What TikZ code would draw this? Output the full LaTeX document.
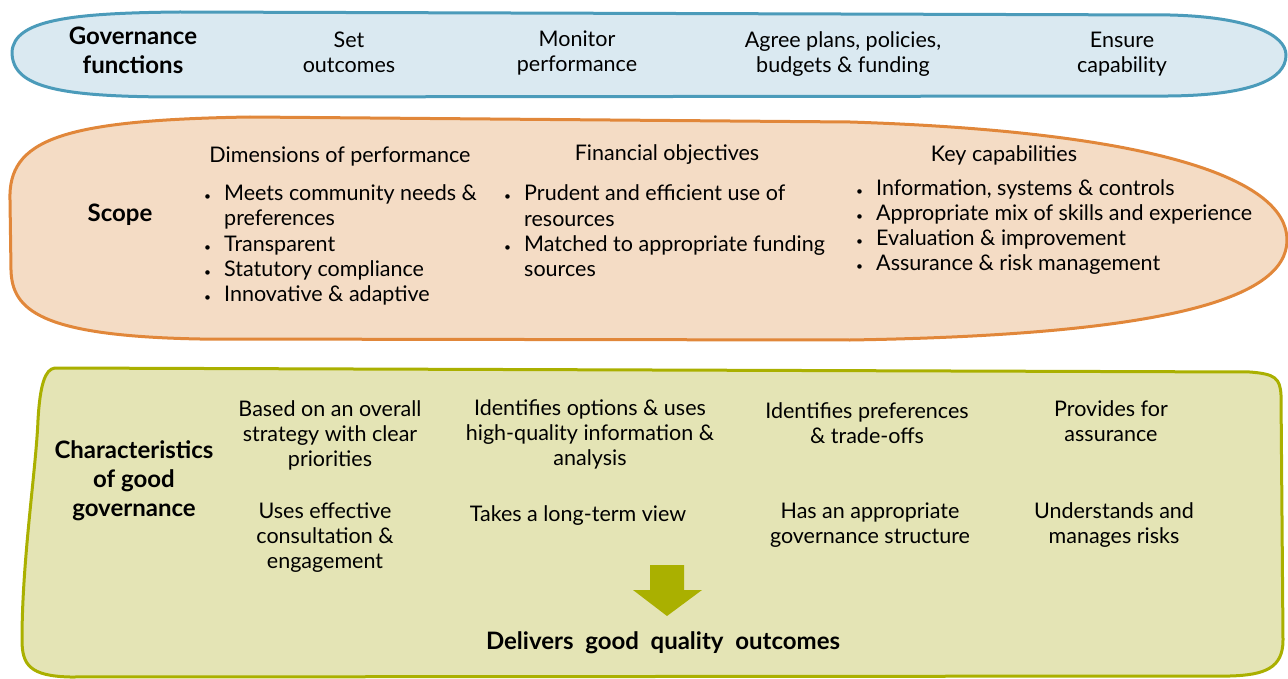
\documentclass[tikz,border=0pt]{standalone}
\usepackage{fontspec}
\setmainfont{Lato}
\usetikzlibrary{positioning}
\definecolor{govfill}{HTML}{DAE9F1}
\definecolor{govline}{HTML}{4B9BBA}
\definecolor{scopefill}{HTML}{F4DCC5}
\definecolor{scopeline}{HTML}{E1873A}
\definecolor{charfill}{HTML}{E4E4B5}
\definecolor{charline}{HTML}{AAB000}
\newcommand{\bul}{\makebox[20pt][l]{\fontsize{12}{12}\selectfont\textbullet}}
\newcommand{\hang}{\hspace*{20pt}}

\begin{document}
\begin{tikzpicture}[x=1pt, y=-1pt,
    body/.style={font=\fontsize{21.5}{25}\selectfont, align=center, inner sep=0pt},
    head/.style={font=\fontsize{24}{29}\selectfont\bfseries, align=center, inner sep=0pt},
    listbox/.style={font=\fontsize{21.5}{25.3}\selectfont, align=left, inner sep=0pt, anchor=west},
    band/.style={line width=3pt, line join=round}]
	  \useasboundingbox (0,0) rectangle (1288,679);
	  % governance functions band
	  \draw[band, govline, fill=govfill] (12,52) .. controls (14,20) and (70,13) .. (180,12) -- (1170,15) .. controls (1250,17) and (1286,35) .. (1286,55) .. controls (1286,80) and (1250,95) .. (1170,96) -- (180,97) .. controls (60,97) and (12,88) .. (12,52) -- cycle;
	  \node[head] (gov) at (133,50) {Governance\\functions};
	  \node[body] (setout) at (349,52) {Set\\outcomes};
	  \node[body] (monitor) at (577,53) {Monitor\\performance};
	  \node[body] (agree) at (843,54) {Agree plans, policies,\\budgets \& funding};
	  \node[body] (ensure) at (1122,54) {Ensure\\capability};
	  % scope band
	  \draw[band, scopeline, fill=scopefill] (10,200) .. controls (8,140) and (60,120) .. (250,117) -- (850,122) .. controls (1160,132) and (1287,180) .. (1287,240) .. controls (1287,300) and (1160,335) .. (850,340) -- (200,339) .. controls (40,336) and (12,310) .. (11,270) -- cycle;
	  \node[head] (scope) at (120,215) {Scope};
	  \node[body] (dimhead) at (340,157) {Dimensions of performance};
	  \node[listbox] (dimlist) at (204,245) {\bul Meets community needs \&\\\hang preferences\\\bul Transparent\\\bul Statutory compliance\\\bul Innovative \& adaptive};
	  \node[body] (finhead) at (667,155) {Financial objectives};
	  \node[listbox] (finlist) at (504,231) {\bul Prudent and efficient use of\\\hang resources\\\bul Matched to appropriate funding\\\hang sources};
	  \node[body] (keyhead) at (1004,155) {Key capabilities};
	  \node[listbox] (keylist) at (856,227) {\bul Information, systems \& controls\\\bul Appropriate mix of skills and experience\\\bul Evaluation \& improvement\\\bul Assurance \& risk management};
	  % characteristics box
	  \draw[band, charline, fill=charfill] (55,368) -- (1250,372) .. controls (1275,374) and (1280,378) .. (1281,395) -- (1283,640) .. controls (1283,668) and (1265,675) .. (1230,676) -- (70,677) .. controls (30,676) and (22,665) .. (22,640) .. controls (22,560) and (36,470) .. (38,420) .. controls (40,385) and (45,369) .. (55,368) -- cycle;
	  \node[head] (chars) at (134,481) {Characteristics\\of good\\governance};
	  \node[body] (strategy) at (330,435) {Based on an overall\\strategy with clear\\priorities};
	  \node[body] (consult) at (325,538) {Uses effective\\consultation \&\\engagement};
	  \node[body] (options) at (590,434) {Identifies options \& uses\\high-quality information \&\\analysis};
	  \node[body] (longterm) at (578,516) {Takes a long-term view};
	  \node[body] (prefs) at (867,423) {Identifies preferences\\\& trade-offs};
	  \node[body] (structure) at (870,525) {Has an appropriate\\governance structure};
	  \node[body] (assurance) at (1111,421) {Provides for\\assurance};
	  \node[body] (risks) at (1114,525) {Understands and\\manages risks};
	  \fill[charline] (650,565) -- (684,565) -- (684,590) -- (702,590) -- (667,616) -- (633,590) -- (650,590) -- cycle;
	  \node[head] (delivers) at (663,643) {Delivers\ \ good\ \ quality\ \ outcomes};
	\end{tikzpicture}
\end{document}
